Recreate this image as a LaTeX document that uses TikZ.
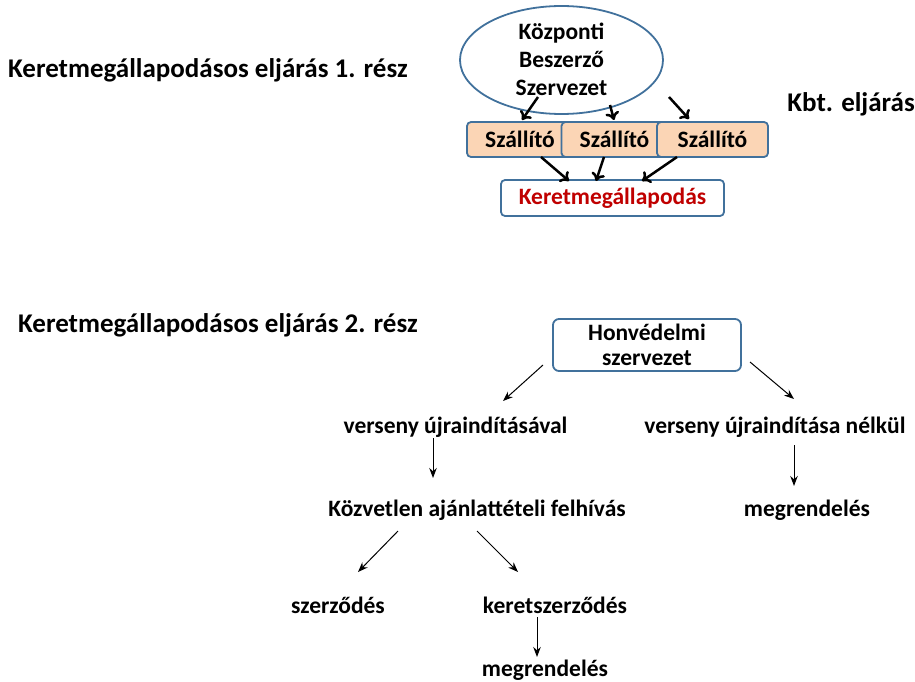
\documentclass[tikz,border=0pt]{standalone}
\usepackage{fontspec}
\setmainfont{Carlito}
\usetikzlibrary{arrows.meta,shapes.geometric}
\definecolor{bord}{HTML}{41719C}
\definecolor{peach}{HTML}{FBD5B5}
\definecolor{kred}{HTML}{C00000}
\tikzset{
  txt/.style={font=\bfseries\fontsize{23.5}{28}\selectfont, inner sep=0pt, align=center},
  ttl/.style={font=\bfseries\fontsize{27}{30}\selectfont, inner sep=0pt},
  supp/.style={txt, draw=bord, line width=1.8pt, fill=peach, rounded corners=4pt, minimum width=106pt, minimum height=35pt},
  thick arr/.style={line width=2.5pt, -{To[length=8pt,width=14pt,line width=2.5pt]}},
  thin arr/.style={line width=1pt, -{Stealth[length=10pt,width=7.5pt]}}
}
\begin{document}
\begin{tikzpicture}[x=1pt,y=-1pt]
\useasboundingbox (0,0) rectangle (915,682);
% titles
\node[ttl, anchor=west] (t1) at (8,70) {Keretmegállapodásos eljárás 1. rész};
\node[ttl, anchor=east] (kbt) at (915,104) {Kbt. eljárás};
\node[ttl, anchor=west] (t2) at (18,325) {Keretmegállapodásos eljárás 2. rész};
% part 1
\node[draw=bord, line width=1.8pt, ellipse, minimum width=203pt, minimum height=108pt, inner sep=0pt] (ell) at (561.5,60) {};
\node[txt] (kbsz) at (561.5,59) {Központi\\Beszerző\\Szervezet};
\node[supp] (s1) at (520,139.5) {Szállító};
\node[supp] (s2) at (614.5,139.5) {Szállító};
\node[supp, minimum width=111pt] (s3) at (712.5,139.5) {Szállító};
\node[txt, text=kred, draw=bord, line width=1.8pt, fill=white, rounded corners=4pt, minimum width=223pt, minimum height=36pt] (km) at (612.5,198) {Keretmegállapodás};
\coordinate (a1s) at (538,97); \coordinate (a1e) at (522,120);
\coordinate (a2s) at (610,105); \coordinate (a2e) at (614,120);
\coordinate (a3s) at (669,97); \coordinate (a3e) at (689,119);
\draw[thick arr] (a1s) -- (a1e);
\draw[thick arr] (a2s) -- (a2e);
\draw[thick arr] (a3s) -- (a3e);
\coordinate (b1s) at (541,157); \coordinate (b1e) at (569,181);
\coordinate (b2s) at (604,157); \coordinate (b2e) at (596,181);
\coordinate (b3s) at (677,157); \coordinate (b3e) at (642,181);
\draw[thick arr] (b1s) -- (b1e);
\draw[thick arr] (b2s) -- (b2e);
\draw[thick arr] (b3s) -- (b3e);
% part 2
\node[txt, font=\bfseries\fontsize{23.5}{25}\selectfont, draw=bord, line width=1.8pt, rounded corners=6pt, minimum width=188pt, minimum height=52pt] (hon) at (647,345) {Honvédelmi\\szervezet};
\node[txt] (vu) at (455.5,427) {verseny újraindításával};
\node[txt] (vn) at (775,427) {verseny újraindítása nélkül};
\node[txt] (kaf) at (477,510) {Közvetlen ajánlattételi felhívás};
\node[txt] (m1) at (807,510) {megrendelés};
\node[txt] (sz) at (338,605) {szerződés};
\node[txt] (ksz) at (555,605) {keretszerződés};
\node[txt] (m2) at (545,670) {megrendelés};
\coordinate (c1s) at (543,365); \coordinate (c1e) at (503,401);
\coordinate (c2s) at (750,362); \coordinate (c2e) at (794,399);
\coordinate (c3s) at (433,438); \coordinate (c3e) at (433,478);
\coordinate (c4s) at (794,445); \coordinate (c4e) at (794,486);
\coordinate (c5s) at (398,531); \coordinate (c5e) at (358,572);
\coordinate (c6s) at (477,531); \coordinate (c6e) at (518,572);
\coordinate (c7s) at (537,617); \coordinate (c7e) at (537,657);
\draw[thin arr] (c1s) -- (c1e);
\draw[thin arr] (c2s) -- (c2e);
\draw[thin arr] (c3s) -- (c3e);
\draw[thin arr] (c4s) -- (c4e);
\draw[thin arr] (c5s) -- (c5e);
\draw[thin arr] (c6s) -- (c6e);
\draw[thin arr] (c7s) -- (c7e);
\end{tikzpicture}
\end{document}
